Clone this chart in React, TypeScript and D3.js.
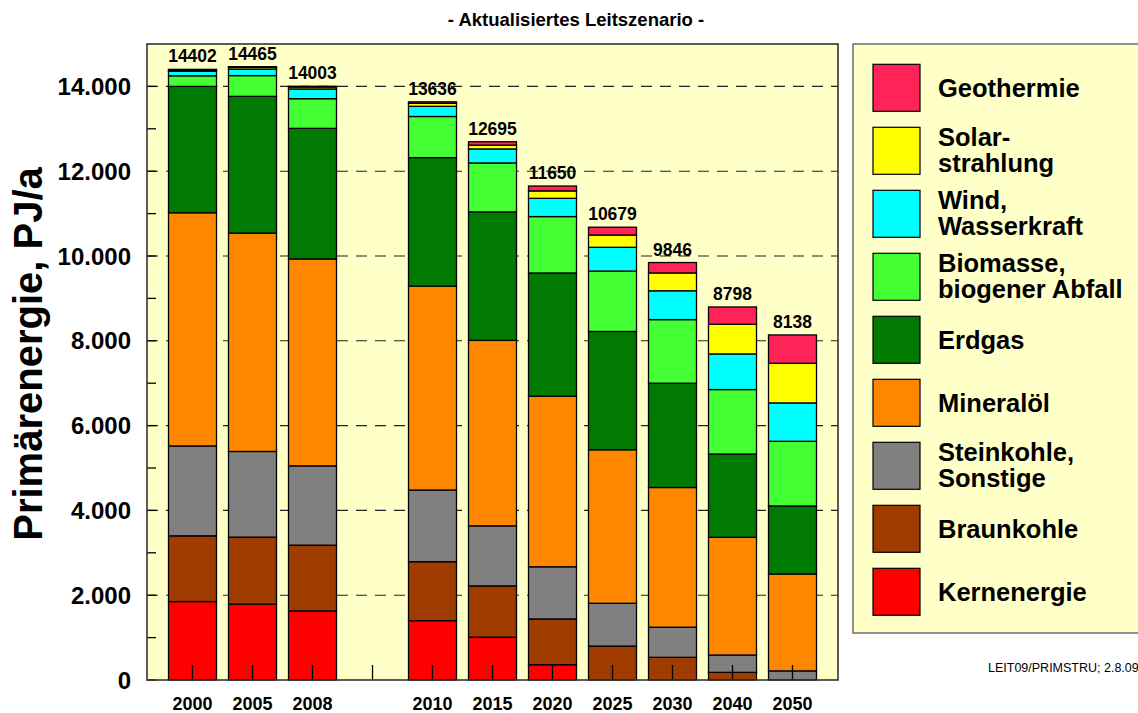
import React, { useEffect, useRef } from 'react';
import * as d3 from 'd3';

// years shown as bars; an empty slot sits between 2008 and 2010
const years = ['2000', '2005', '2008', '2010', '2015', '2020', '2025', '2030', '2040', '2050'];
const slots = ['2000', '2005', '2008', 'gap', '2010', '2015', '2020', '2025', '2030', '2040', '2050'];

// PJ/a per energy source
const kernenergie = [1850, 1790, 1630, 1400, 1010, 360, 0, 0, 0, 0];
const braunkohle = [1550, 1580, 1550, 1390, 1210, 1080, 800, 535, 180, 0];
const steinkohle = [2120, 2020, 1870, 1690, 1415, 1230, 1010, 710, 410, 215];
const mineraloel = [5500, 5150, 4880, 4810, 4375, 4025, 3620, 3295, 2775, 2285];
const erdgas = [2980, 3225, 3080, 3030, 3030, 2905, 2790, 2460, 1965, 1605];
const biomasse = [250, 490, 700, 970, 1155, 1330, 1425, 1500, 1520, 1525];
const wind = [110, 155, 230, 240, 330, 430, 560, 680, 840, 905];
const solar = [30, 40, 45, 70, 90, 175, 290, 420, 700, 935];
const geothermie = [12, 15, 18, 36, 80, 115, 184, 246, 408, 668];
const totals = [14402, 14465, 14003, 13636, 12695, 11650, 10679, 9846, 8798, 8138];

const yTicks = [0, 2000, 4000, 6000, 8000, 10000, 12000, 14000];

// bottom to top
const series = [
  { key: 'kern', label: ['Kernenergie'], values: kernenergie, color: '#ff0000' },
  { key: 'braun', label: ['Braunkohle'], values: braunkohle, color: '#a03c00' },
  { key: 'stein', label: ['Steinkohle,', 'Sonstige'], values: steinkohle, color: '#808080' },
  { key: 'oel', label: ['Mineralöl'], values: mineraloel, color: '#ff8700' },
  { key: 'gas', label: ['Erdgas'], values: erdgas, color: '#007a00' },
  { key: 'bio', label: ['Biomasse,', 'biogener Abfall'], values: biomasse, color: '#43ff33' },
  { key: 'wind', label: ['Wind,', 'Wasserkraft'], values: wind, color: '#00ffff' },
  { key: 'solar', label: ['Solar-', 'strahlung'], values: solar, color: '#ffff00' },
  { key: 'geo', label: ['Geothermie'], values: geothermie, color: '#ff2358' },
];

const FONT = '"Liberation Sans", Arial, Helvetica, sans-serif';

const Chart = () => {
  const ref = useRef<SVGSVGElement>(null);

  useEffect(() => {
    const svg = d3.select(ref.current);
    svg.selectAll('*').remove();

    const width = 1138;
    const height = 713;
    const plot = { left: 147, top: 44, right: 838, bottom: 680 };

    const rows = years.map((y, i) => {
      const r: any = { year: y };
      series.forEach(s => { r[s.key] = s.values[i]; });
      return r;
    });
    const stacked = d3.stack().keys(series.map(s => s.key))(rows);

    const x = d3.scaleBand()
      .domain(slots)
      .range([162.5, 822.5])
      .paddingInner(0.2)
      .paddingOuter(0.1);

    const y = d3.scaleLinear()
      .domain([0, 15000])
      .range([plot.bottom, plot.top]);

    const de = d3.formatLocale({ decimal: ',', thousands: '.', grouping: [3], currency: ['', '€'] });
    const fmt = de.format(',');

    // title
    svg.append('text')
      .attr('x', 576).attr('y', 26)
      .attr('text-anchor', 'middle')
      .attr('font-family', FONT).attr('font-weight', 'bold').attr('font-size', 18.5)
      .text('- Aktualisiertes Leitszenario -');

    // plot background
    svg.append('rect')
      .attr('x', plot.left).attr('y', plot.top)
      .attr('width', plot.right - plot.left).attr('height', plot.bottom - plot.top)
      .attr('fill', '#ffffc8');

    // dashed grid
    svg.append('g').selectAll('line')
      .data(yTicks.filter(t => t > 0))
      .enter().append('line')
      .attr('x1', plot.left).attr('x2', plot.right)
      .attr('y1', d => y(d)).attr('y2', d => y(d))
      .attr('stroke', '#222').attr('stroke-width', 1.1)
      .attr('stroke-dasharray', '11,8');

    // bars
    const g = svg.append('g');
    stacked.forEach((layer, li) => {
      g.append('g')
        .attr('fill', series[li].color)
        .selectAll('rect')
        .data(layer.filter(d => d[1] - d[0] > 0))
        .enter().append('rect')
        .attr('x', d => x(d.data.year as string)!)
        .attr('y', d => y(d[1]))
        .attr('width', x.bandwidth())
        .attr('height', d => y(d[0]) - y(d[1]))
        .attr('stroke', '#000').attr('stroke-width', 1.3);
    });

    // totals above bars
    svg.append('g').selectAll('text')
      .data(years)
      .enter().append('text')
      .attr('x', d => x(d)! + x.bandwidth() / 2)
      .attr('y', (d, i) => y(totals[i]) - 7)
      .attr('text-anchor', 'middle')
      .attr('font-family', FONT).attr('font-weight', 'bold').attr('font-size', 17.5)
      .text((d, i) => totals[i]);

    // y axis ticks (inside), major + minor
    const tk = svg.append('g').attr('stroke', '#000').attr('stroke-width', 1.3);
    d3.range(0, 15000, 1000).forEach(v => {
      tk.append('line')
        .attr('x1', plot.left).attr('x2', plot.left + 9)
        .attr('y1', y(v)).attr('y2', y(v));
    });
    // x axis ticks (inside) at each slot
    slots.forEach(s => {
      tk.append('line')
        .attr('x1', x(s)! + x.bandwidth() / 2).attr('x2', x(s)! + x.bandwidth() / 2)
        .attr('y1', plot.bottom).attr('y2', plot.bottom - 15);
    });

    // frame
    svg.append('rect')
      .attr('x', plot.left).attr('y', plot.top)
      .attr('width', plot.right - plot.left).attr('height', plot.bottom - plot.top)
      .attr('fill', 'none').attr('stroke', '#333').attr('stroke-width', 1.6);

    // y tick labels
    svg.append('g').selectAll('text')
      .data(yTicks)
      .enter().append('text')
      .attr('x', plot.left - 16)
      .attr('y', d => y(d))
      .attr('dy', '0.36em')
      .attr('text-anchor', 'end')
      .attr('font-family', FONT).attr('font-weight', 'bold').attr('font-size', 24)
      .text(d => fmt(d));

    // x tick labels
    svg.append('g').selectAll('text')
      .data(years)
      .enter().append('text')
      .attr('x', d => x(d)! + x.bandwidth() / 2)
      .attr('y', 710)
      .attr('text-anchor', 'middle')
      .attr('font-family', FONT).attr('font-weight', 'bold').attr('font-size', 18)
      .text(d => d);

    // y axis title
    svg.append('text')
      .attr('transform', 'translate(42,354) rotate(-90)')
      .attr('text-anchor', 'middle')
      .attr('font-family', FONT).attr('font-weight', 'bold').attr('font-size', 40)
      .text('Primärenergie, PJ/a');

    // legend
    const lg = svg.append('g');
    lg.append('rect')
      .attr('x', 853).attr('y', 44)
      .attr('width', 300).attr('height', 589)
      .attr('fill', '#ffffc8').attr('stroke', '#777').attr('stroke-width', 1.6);

    const legendItems = series.slice().reverse();
    legendItems.forEach((s, i) => {
      const top = 64.3 + i * 63;
      const cy = top + 23.5;
      lg.append('rect')
        .attr('x', 873).attr('y', top)
        .attr('width', 47).attr('height', 47)
        .attr('fill', s.color).attr('stroke', '#000').attr('stroke-width', 1.2);
      const t = lg.append('text')
        .attr('font-family', FONT).attr('font-weight', 'bold').attr('font-size', 25.5);
      const first = s.label.length === 1 ? cy + 9.3 : cy - 5;
      s.label.forEach((line, j) => {
        t.append('tspan').attr('x', 938).attr('y', first + j * 26.5).text(line);
      });
    });

    // source note
    svg.append('text')
      .attr('x', 988).attr('y', 672)
      .attr('font-family', FONT).attr('font-size', 12.5)
      .text('LEIT09/PRIMSTRU; 2.8.09');

    svg.attr('width', width).attr('height', height);
  }, []);

  return (
    <svg
      ref={ref}
      width={1138}
      height={713}
      style={{ position: 'absolute', left: 0, top: 0, background: '#fff' }}
    />
  );
};

export default function App() {
  return <Chart />;
}
